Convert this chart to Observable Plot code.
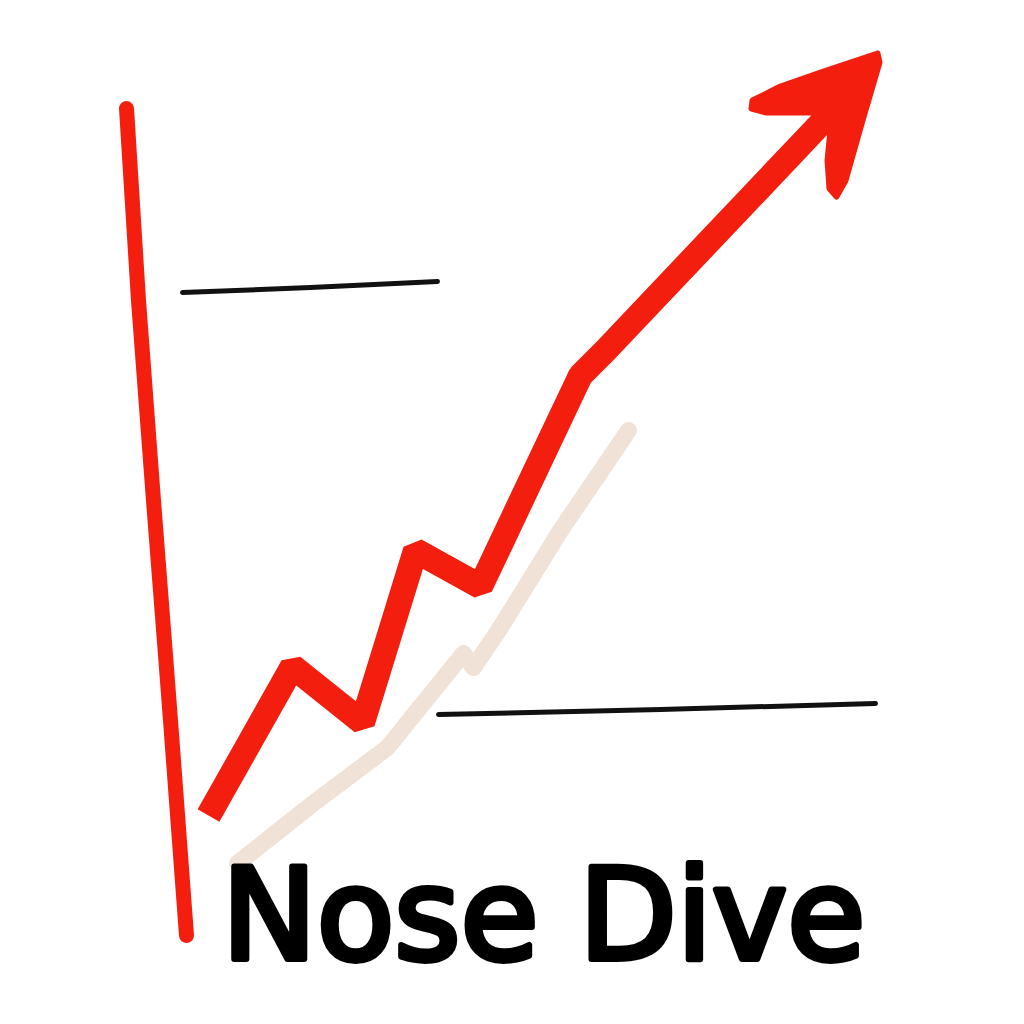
<!DOCTYPE html>
<html>
<head>
<meta charset="utf-8">
<script src="https://cdn.jsdelivr.net/npm/d3@7"></script>
<script src="https://cdn.jsdelivr.net/npm/@observablehq/plot@0.6"></script>
<style>
  html, body { margin: 0; padding: 0; background: #ffffff; }
  #chart { width: 1024px; height: 1024px; }
</style>
</head>
<body>
<div id="chart"></div>
<script>
// Picture units: x to the right, y downward, on a 1024 × 1024 canvas.
const axisX = [126, 138, 153, 170, 186];
const axisY = [108, 300, 500, 720, 935];

const upperRefX = [182, 310, 437];
const upperRefY = [292, 287, 281];

const lowerRefX = [438, 660, 875];
const lowerRefY = [714, 709, 703];

const shadowX = [237, 310, 387, 463, 473, 500, 560, 628];
const shadowY = [863, 805, 747, 653, 667, 627, 530, 430];

const trendX = [208, 292, 362, 415, 480, 580, 605, 825];
const trendY = [815, 666, 722, 550, 586, 375, 350, 118];

const headX = [877, 820, 780, 752, 751, 766, 812, 830, 827, 829, 836, 845, 862, 879];
const headY = [53,  72,  86, 100, 108, 112, 112, 130, 160, 188, 196, 180, 120, 62];

const titleText = ["Nose Dive"];
const titleX = [543];
const titleY = [958];

const pts = (xs, ys) => xs.map((x, i) => ({x, y: ys[i]}));

const red = "#f41e0f";

const chart = Plot.plot({
  width: 1024,
  height: 1024,
  margin: 0,
  x: {domain: [0, 1024], range: [0, 1024], axis: null},
  y: {domain: [0, 1024], range: [0, 1024], axis: null},
  style: {background: "#ffffff"},
  marks: [
    Plot.line(pts(shadowX, shadowY), {x: "x", y: "y", stroke: "#f0e2d6", strokeWidth: 17, strokeLinecap: "round", strokeLinejoin: "round"}),
    Plot.line(pts(upperRefX, upperRefY), {x: "x", y: "y", stroke: "#111", strokeWidth: 5, strokeLinecap: "round", curve: "natural"}),
    Plot.line(pts(lowerRefX, lowerRefY), {x: "x", y: "y", stroke: "#111", strokeWidth: 5, strokeLinecap: "round", curve: "natural"}),
    Plot.line(pts(axisX, axisY), {x: "x", y: "y", stroke: red, strokeWidth: 15, strokeLinecap: "round", curve: "natural"}),
    Plot.line(pts(trendX, trendY), {x: "x", y: "y", stroke: red, strokeWidth: 25, strokeLinecap: "butt", strokeLinejoin: "miter"}),
    Plot.line(pts(headX, headY), {x: "x", y: "y", stroke: red, fill: red, strokeWidth: 6, strokeLinejoin: "round", curve: "linear-closed"}),
    Plot.text(titleText, {x: () => titleX[0], y: () => titleY[0], text: d => d, lineAnchor: "bottom", textAnchor: "middle", fontSize: 127, fontFamily: "DejaVu Sans", fill: "#000", stroke: "#000", strokeWidth: 6, strokeLinejoin: "round"})
  ]
});
document.getElementById("chart").append(chart);
</script>
</body>
</html>
